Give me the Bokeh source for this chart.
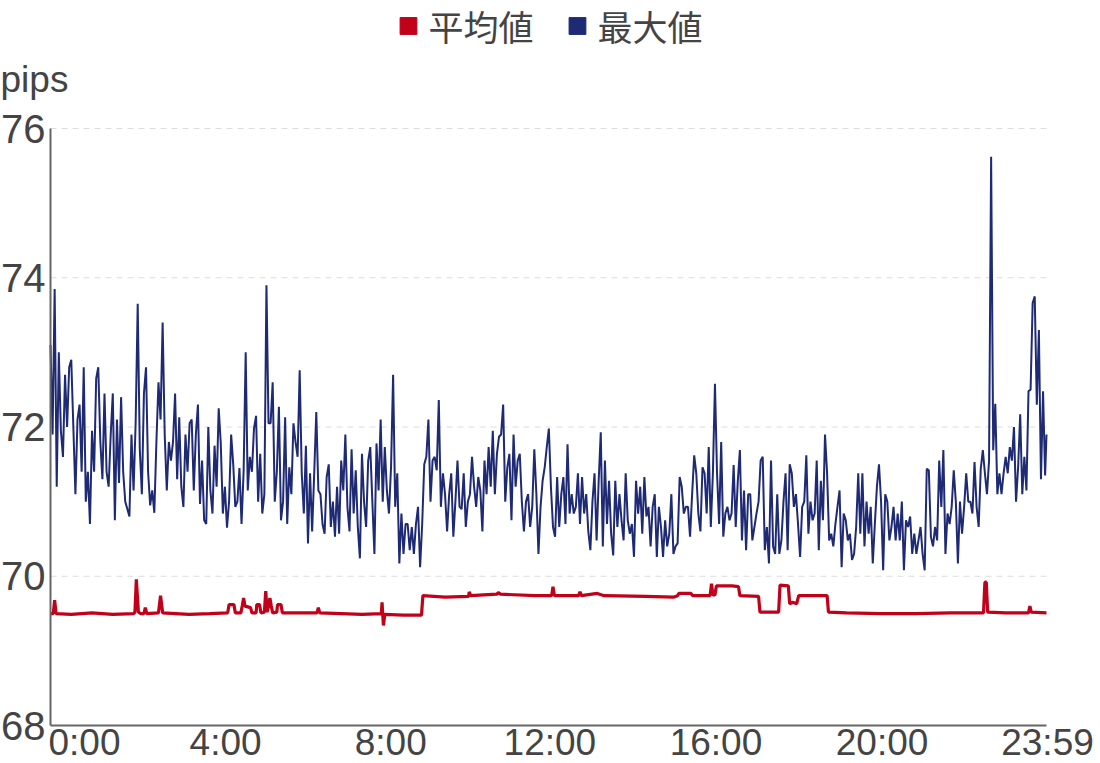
from bokeh.plotting import figure
from bokeh.models import Range1d, Legend, LegendItem, Label
from bokeh.embed import file_html
from bokeh.resources import INLINE

# ---------------- data ----------------
tick_minutes = [0, 240, 480, 720, 960, 1200, 1439]
tick_labels = ["0:00", "4:00", "8:00", "12:00", "16:00", "20:00", "23:59"]
y_ticks = [68, 70, 72, 74, 76]
series_names = ["平均値", "最大値"]
unit_label = "pips"

# 最大値: one reading every 3 minutes (last one at 23:59)
max_minutes = list(range(0, 1440, 3)) + [1439]
max_values = [
    # 0:00 - 3:00
    73.1, 71.9, 73.85, 71.2, 73.0, 71.95, 71.6, 72.7, 72.0, 72.8, 72.9, 72.0, 71.1, 72.1, 72.3, 71.4,
    72.8, 71.0, 71.4, 70.7, 71.95, 71.4, 72.65, 72.8, 71.8, 71.3, 72.45, 71.4, 71.2, 71.9, 72.45, 70.75,
    72.1, 71.25, 72.4, 71.4, 71.0, 70.9, 70.8, 71.9, 71.15, 72.05, 73.65, 71.7, 71.1, 72.45, 72.8, 71.4,
    70.95, 71.15, 70.85, 71.8, 72.6, 72.1, 73.4, 71.9, 71.15, 71.8, 71.55, 71.8, 72.45,
    # 3:03 - 6:00
    71.3, 72.13, 71.2, 70.93, 71.9, 71.4, 72.05, 72.1, 71.15, 71.9, 72.3, 70.97, 71.55, 70.75, 70.7, 72.0,
    71.15, 70.84, 71.75, 71.2, 72.25, 71.78, 70.84, 71.2, 70.65, 71.0, 71.9, 71.5, 70.93, 71.0, 71.45, 70.7,
    71.4, 73.0, 71.15, 71.6, 71.4, 71.98, 72.15, 71.0, 71.64, 70.84, 71.1, 73.9, 72.05, 72.05, 72.6, 71.0,
    71.4, 72.27, 70.75, 71.0, 72.13, 70.7, 71.46, 71.1, 72.05, 71.8, 71.6, 72.76,
    # 6:03 - 9:00
    71.38, 70.84, 71.75, 70.44, 71.38, 70.6, 71.38, 72.2, 71.15, 71.1, 70.7, 70.57, 71.33, 71.5, 70.66, 71.0,
    70.53, 71.2, 70.57, 71.55, 71.15, 71.9, 70.93, 70.6, 71.7, 70.84, 71.42, 70.66, 70.24, 71.64, 71.0, 70.66,
    71.55, 71.73, 71.0, 70.3, 71.78, 71.15, 72.1, 71.0, 71.73, 71.15, 70.84, 71.46, 72.7, 70.93, 71.38, 70.17,
    70.84, 70.3, 70.7, 70.7, 70.35, 70.66, 70.3, 70.7, 70.93, 70.12, 70.7, 71.5,
    # 9:03 - 12:00
    71.6, 72.1, 71.0, 71.55, 71.6, 71.42, 72.36, 70.93, 71.38, 71.1, 70.6, 71.1, 71.38, 70.53, 71.0, 71.55,
    70.93, 70.9, 71.38, 70.66, 71.0, 71.1, 71.6, 71.2, 70.93, 71.33, 71.15, 70.6, 71.55, 71.1, 71.73, 71.2,
    71.95, 71.1, 71.64, 71.87, 71.9, 72.3, 71.0, 71.46, 71.64, 70.75, 71.9, 71.2, 71.55, 71.64, 71.0, 70.6,
    71.0, 71.1, 70.66, 70.93, 71.7, 71.1, 70.3, 70.93, 71.28, 71.46, 71.73, 71.98,
    # 12:03 - 15:00
    71.2, 70.66, 70.53, 71.33, 70.66, 71.1, 71.33, 70.7, 71.77, 70.84, 71.1, 70.84, 70.93, 71.38, 70.7, 71.33,
    70.84, 71.1, 70.6, 70.35, 71.0, 71.38, 70.48, 71.28, 71.93, 70.4, 71.55, 70.7, 71.28, 70.57, 70.28, 71.28,
    70.66, 71.1, 70.75, 70.48, 71.38, 70.75, 70.57, 70.7, 70.26, 71.28, 70.84, 71.2, 70.57, 71.33, 70.8, 70.93,
    70.4, 70.93, 71.1, 70.26, 70.93, 70.66, 70.26, 70.75, 70.4, 70.57, 71.1, 70.3,
    # 15:03 - 18:00
    70.4, 70.44, 71.33, 71.2, 70.84, 70.93, 70.93, 70.53, 71.1, 71.62, 71.38, 70.84, 70.6, 71.46, 71.38, 70.84,
    71.73, 70.66, 71.38, 72.58, 71.38, 70.7, 71.8, 70.53, 70.84, 70.93, 70.75, 70.84, 71.49, 70.66, 71.28, 71.69,
    70.48, 71.15, 70.35, 71.1, 71.1, 70.48, 70.66, 70.84, 71.0, 71.55, 71.6, 70.35, 70.66, 70.17, 71.55, 70.4,
    70.3, 71.1, 70.3, 70.48, 71.0, 71.38, 70.35, 71.5, 71.38, 70.93, 71.1, 70.7,
    # 18:03 - 21:00
    70.26, 70.93, 71.0, 71.62, 70.57, 71.0, 70.75, 70.84, 71.55, 70.35, 71.28, 70.75, 71.9, 71.38, 70.48, 70.57,
    70.4, 70.7, 70.93, 71.15, 70.12, 70.84, 70.75, 70.48, 70.57, 70.22, 70.3, 70.66, 71.38, 70.57, 71.38, 70.4,
    71.0, 70.57, 70.93, 70.17, 70.7, 71.2, 71.5, 71.0, 70.08, 71.1, 71.0, 70.48, 70.66, 70.93, 70.48, 70.84,
    70.48, 71.0, 70.08, 70.75, 70.66, 70.8, 70.3, 70.57, 70.3, 70.48, 70.66, 70.3,
    # 21:03 - 23:59
    70.08, 71.44, 71.42, 70.53, 70.4, 70.66, 70.48, 71.55, 70.93, 71.69, 70.3, 70.84, 70.7, 70.93, 71.42, 71.0,
    70.17, 71.0, 70.57, 70.93, 71.38, 71.0, 71.0, 70.84, 71.53, 70.93, 70.66, 71.44, 71.69, 71.38, 71.1, 71.55,
    75.62, 71.69, 72.31, 71.1, 71.38, 71.1, 71.38, 71.6, 71.38, 71.73, 71.55, 72.0, 71.0, 71.46,
    72.17, 71.1, 71.6, 71.15, 72.48, 72.5, 73.66, 73.75, 72.3, 73.3, 71.3, 72.48, 71.35, 71.9,
]

# 平均値: readings at the minutes where the level changes
avg_minutes = [
    0, 4, 6, 8, 30, 60, 90, 120, 122, 124, 127, 130, 135, 137, 139, 156, 159, 162, 200, 230,
    256, 258, 265, 267, 275, 277, 279, 281, 289, 291, 297, 298, 302, 304, 309, 311, 313, 315, 317, 319,
    321, 327, 328, 333, 335, 360, 385, 387, 389, 420, 450, 478, 479, 481, 483, 510, 536, 538, 570, 604,
    605, 607, 645, 647, 650, 700, 724, 726, 728, 763, 765, 767, 790, 800, 860, 900, 906, 908, 925, 928,
    953, 955, 957, 960, 962, 985, 994, 996, 1023, 1025, 1052, 1054, 1066, 1068, 1072, 1078, 1081, 1122, 1124, 1150,
    1200, 1250, 1300, 1348, 1350, 1352, 1354, 1380, 1413, 1415, 1417, 1439,
]
avg_values = [
    69.50, 69.50, 69.68, 69.50, 69.49, 69.51, 69.49, 69.50, 69.52, 69.96, 69.52, 69.50, 69.50, 69.58, 69.50, 69.51, 69.74, 69.51, 69.49, 69.50,
    69.51, 69.62, 69.62, 69.51, 69.51, 69.60, 69.71, 69.60, 69.58, 69.51, 69.51, 69.62, 69.62, 69.51, 69.52, 69.80, 69.52, 69.60, 69.71, 69.60,
    69.51, 69.52, 69.62, 69.62, 69.51, 69.51, 69.51, 69.58, 69.51, 69.50, 69.49, 69.50, 69.65, 69.34, 69.49, 69.48, 69.48, 69.74, 69.72, 69.73,
    69.79, 69.74, 69.76, 69.78, 69.76, 69.74, 69.74, 69.86, 69.74, 69.74, 69.79, 69.74, 69.77, 69.74, 69.73, 69.72, 69.74, 69.77, 69.77, 69.74,
    69.74, 69.90, 69.75, 69.75, 69.87, 69.87, 69.86, 69.74, 69.73, 69.52, 69.52, 69.88, 69.87, 69.63, 69.65, 69.63, 69.74, 69.74, 69.52, 69.51,
    69.50, 69.50, 69.51, 69.51, 69.92, 69.92, 69.52, 69.51, 69.51, 69.60, 69.52, 69.51,
]

RED = "#c1001a"
NAVY = "#1f2a74"
TEXT = "#444444"
AXIS = "#666666"
LATIN = "Liberation Sans"
CJK = "Noto Sans CJK JP"

# ---------------- layout (canvas pixels) ----------------
W, H = 1100, 763
X0_PX, X1_PX = 50, 1046          # where 0:00 and 23:59 sit
Y76_PX, Y68_PX = 128, 725        # where 76 and 68 sit (from the top)
ppm = (X1_PX - X0_PX) / (tick_minutes[-1] - tick_minutes[0])
ppu = (Y68_PX - Y76_PX) / (y_ticks[-1] - y_ticks[0])
x_lo = tick_minutes[0] - X0_PX / ppm
x_hi = tick_minutes[-1] + (W - X1_PX) / ppm
y_lo = y_ticks[0] - (H - Y68_PX) / ppu
y_hi = y_ticks[-1] + Y76_PX / ppu

# The frame covers the whole canvas; axes are drawn inside it at 0:00 and 68.
p = figure(width=W, height=H, output_backend="svg", toolbar_location=None,
           x_axis_location=None, y_axis_location=None,
           x_range=Range1d(x_lo, x_hi), y_range=Range1d(y_lo, y_hi),
           min_border_left=0, min_border_right=0, min_border_top=0, min_border_bottom=0)
p.outline_line_color = None
p.background_fill_color = "white"
p.grid.visible = False

t0, t1 = tick_minutes[0], tick_minutes[-1]
grid_levels = y_ticks[1:]

# dashed horizontal grid
p.segment(x0=[t0] * len(grid_levels), x1=[t1] * len(grid_levels), y0=grid_levels, y1=grid_levels,
          line_color="#dddddd", line_width=1, line_dash="6 5")

# series
p.line(max_minutes, max_values, line_color=NAVY, line_width=2)
p.line(avg_minutes, avg_values, line_color=RED, line_width=3.2)

# axis lines
p.segment(x0=[t0, t0], x1=[t0, t1], y0=[y_ticks[0], y_ticks[0]], y1=[y_ticks[-1], y_ticks[0]],
          line_color=AXIS, line_width=2)

# y tick labels
for v in y_ticks:
    p.add_layout(Label(x=t0, y=v, x_offset=-5, text=str(v),
                       text_font=LATIN, text_font_size="40px", text_color=TEXT,
                       text_baseline="middle", text_align="right"))

# x tick labels
label_dx = [-2, 9, 8, 1, 1, 1, 1]
label_align = ["left", "center", "center", "center", "center", "center", "center"]
for i, (m, t) in enumerate(zip(tick_minutes, tick_labels)):
    p.add_layout(Label(x=m, y=y_ticks[0], x_offset=label_dx[i], y_offset=-17, text=t,
                       text_font=LATIN, text_font_size="37px", text_color=TEXT,
                       text_baseline="middle", text_align=label_align[i]))

# unit label
p.add_layout(Label(x=t0, y=y_ticks[-1], x_offset=-X0_PX, y_offset=49, text=unit_label,
                   text_font=LATIN, text_font_size="37px", text_color=TEXT,
                   text_baseline="middle", text_align="left"))

# legend (square swatches)
nan = float("nan")
sw_avg = p.quad(left=[nan], right=[nan], top=[nan], bottom=[nan], fill_color=RED, line_color=RED)
sw_max = p.quad(left=[nan], right=[nan], top=[nan], bottom=[nan], fill_color=NAVY, line_color=NAVY)
legend = Legend(items=[LegendItem(label=series_names[0], renderers=[sw_avg]),
                       LegendItem(label=series_names[1], renderers=[sw_max])],
                orientation="horizontal", location="top_center",
                glyph_width=21, glyph_height=21, label_standoff=10, spacing=33,
                padding=0, margin=0, border_line_color=None, background_fill_alpha=0,
                label_text_font=CJK, label_text_font_size="35px", label_text_color=TEXT,
                label_height=34)
p.add_layout(legend, "center")

open("out.html", "w").write(file_html(p, INLINE))
